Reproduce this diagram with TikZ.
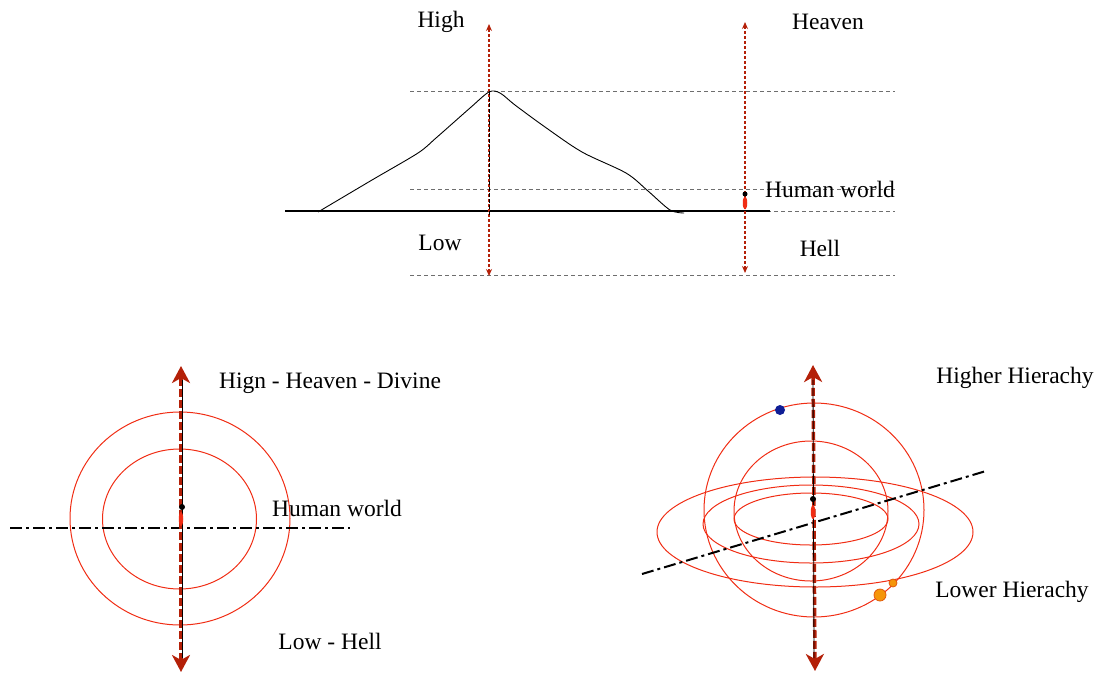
\documentclass[tikz,border=0pt]{standalone}
\usepackage{fontspec}
\setmainfont{Liberation Serif}
\usetikzlibrary{arrows.meta,shapes.geometric}
\definecolor{darkred}{RGB}{180,32,8}
\definecolor{ringred}{RGB}{240,45,20}
\definecolor{guide}{RGB}{110,110,110}
\definecolor{orangedot}{RGB}{245,150,10}
\definecolor{orangeedge}{RGB}{225,90,10}
\definecolor{bluedot}{RGB}{15,30,150}
\tikzset{
  lbl/.style={font=\fontsize{23.5}{26}\selectfont, inner sep=0pt},
  guideline/.style={guide, dash pattern=on 4pt off 3pt, line width=0.9pt},
  thinaxis/.style={darkred, dash pattern=on 3pt off 2pt, line width=1.3pt, {Stealth[length=7pt,width=6pt]}-{Stealth[length=7pt,width=6pt]}},
  bigaxis/.style={darkred, dash pattern=on 8pt off 3pt, line width=3.5pt, {Stealth[length=17pt,width=18pt,inset=5pt]}-{Stealth[length=17pt,width=18pt,inset=5pt]}},
  ring/.style={ringred, line width=1pt},
  dashdot/.style={black, line width=2pt, dash pattern=on 12pt off 4pt on 3pt off 4pt},
  blackdot/.style={circle, fill=black, inner sep=0pt, minimum size=6pt},
  redseed/.style={ellipse, fill=ringred, inner sep=0pt, minimum width=4.5pt, minimum height=14pt},
}
\begin{document}
\begin{tikzpicture}[x=1pt,y=-1pt]
\useasboundingbox (0,0) rectangle (1097,673);

% ---------------- top section ----------------
\draw[guideline] (410,91) -- (895,91);
\draw[guideline] (410,189) -- (895,189);
\draw[guideline] (410,211) -- (895,211);
\draw[guideline] (410,275) -- (895,275);
\draw[black, line width=1.8pt] (285,211) -- (770,211);
\draw[black, line width=0.9pt] plot[smooth, tension=0.5] coordinates {(318,212) (372,180) (418,153) (436,138) (470,108) (489,92) (500,93) (515,105) (545,127) (582,152) (626,173) (648,191) (670,210) (684,213)};

\coordinate (hiTop) at (489,24);
\coordinate (hiBot) at (489,276);
\draw[thinaxis] (hiBot) -- (hiTop);
\draw[black, dash pattern=on 4pt off 2pt, line width=0.6pt] (489,91) -- (489,215);
\coordinate (hvTop) at (745,22);
\coordinate (hvBot) at (745,273);
\draw[thinaxis] (hvBot) -- (hvTop);
\node[redseed, minimum height=13pt] (seedA) at (745,203) {};
\node[blackdot, minimum size=5pt] (dotA) at (745,194) {};

\node[lbl] (high) at (441,22) {High};
\node[lbl] (heaven) at (828,22) {Heaven};
\node[lbl] (humanA) at (830,189) {Human world};
\node[lbl] (low) at (440,243) {Low};
\node[lbl] (hell) at (820,248) {Hell};

% ---------------- bottom left ----------------
\draw[ring] (180,518.5) ellipse [x radius=110, y radius=106.5];
\draw[ring] (179.5,519) ellipse [x radius=77, y radius=70];
\draw[dashdot] (10,528) -- (350,528);
\coordinate (lTop) at (181,366);
\coordinate (lBot) at (181,672);
\draw[bigaxis] (lBot) -- (lTop);
\draw[black, line width=0.8pt] (182,380) -- (182,658);
\node[redseed] (seedB) at (181,519) {};
\node[blackdot] (dotB) at (182,507) {};

\node[lbl] (hhd) at (330,383) {Hign - Heaven - Divine};
\node[lbl] (humanB) at (337,508) {Human world};
\node[lbl] (lowhell) at (330,641) {Low - Hell};

% ---------------- bottom right ----------------
\draw[ring] (814,510) ellipse [x radius=110, y radius=107];
\draw[ring] (811,511) ellipse [x radius=77, y radius=70];
\draw[ring] (815,532) ellipse [x radius=158, y radius=55];
\draw[ring] (811,524) ellipse [x radius=108, y radius=39];
\draw[ring] (811,519) ellipse [x radius=77, y radius=26];
\draw[dashdot] (642,574) -- (986,471);
\coordinate (rTop) at (813,365);
\coordinate (rBot) at (815,671);
\draw[bigaxis] (rBot) -- (rTop);
\draw[black, line width=0.8pt] (813,380) -- (814,658);
\node[redseed] (seedC) at (813,512) {};
\node[blackdot] (dotC) at (813,499) {};

\node[circle, fill=bluedot, inner sep=0pt, minimum size=10pt] (blue) at (780,410) {};
\node[circle, fill=orangedot, draw=orangeedge, line width=0.8pt, inner sep=0pt, minimum size=12pt] (orB) at (880,595) {};
\node[circle, fill=orangedot, draw=orangeedge, line width=0.8pt, inner sep=0pt, minimum size=8pt] (orS) at (893,583) {};

\node[lbl] (higher) at (1015,378) {Higher Hierachy};
\node[lbl] (lower) at (1012,592) {Lower Hierachy};
\end{tikzpicture}
\end{document}
